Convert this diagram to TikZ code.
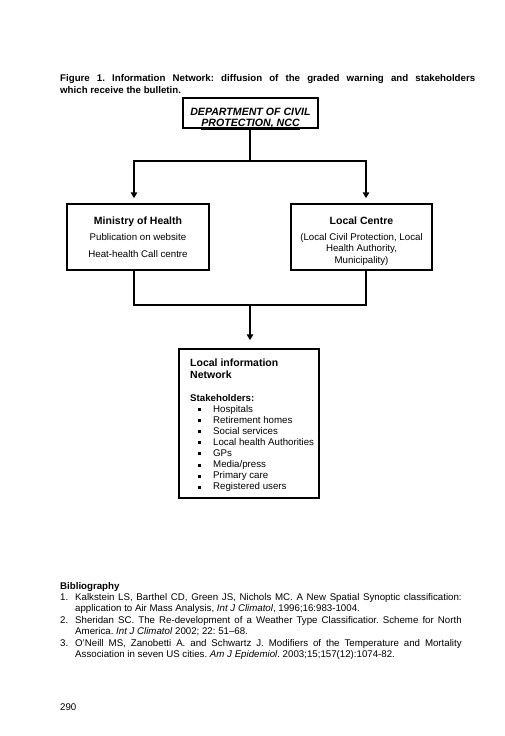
\documentclass[tikz,border=0pt]{standalone}
\usepackage{fontspec}
\setmainfont{Liberation Sans}
\usetikzlibrary{arrows.meta,calc}
\tikzset{
  box/.style={draw, line width=1.5pt, inner sep=0pt},
  conn/.style={line width=1.9pt},
  arr/.style={conn, -{Triangle[width=6.5pt,length=6pt]}},
  txt/.style={inner sep=0pt, anchor=base},
  txtl/.style={inner sep=0pt, anchor=base west},
  body/.style={font=\fontsize{9.7}{11.5}\selectfont},
  head/.style={font=\fontsize{10.5}{12}\selectfont\bfseries},
}
\newcommand{\sqbullet}{\raisebox{1.3pt}{\rule{3pt}{3pt}}}
\begin{document}
\frenchspacing
\begin{tikzpicture}[x=1pt,y=-1pt]
\useasboundingbox (0,0) rectangle (504,736);
% caption
\node[txtl, font=\fontsize{9.7}{12}\selectfont\bfseries] (cap1) at (60,81.5) {\makebox[415pt][s]{Figure 1. Information Network: diffusion of the graded warning and stakeholders}};
\node[txtl, font=\fontsize{9.7}{12}\selectfont\bfseries] (cap2) at (60,93.5) {which receive the bulletin.};
% boxes
\node[box, minimum width=135pt, minimum height=30pt] (dep) at (250.5,113) {};
\node[box, minimum width=142pt, minimum height=66pt] (moh) at (138,237) {};
\node[box, minimum width=141pt, minimum height=66pt] (lc) at (361.5,237) {};
\node[box, minimum width=140pt, minimum height=149pt] (lin) at (249,423.5) {};
% top box text
\node[txt, font=\fontsize{10.6}{12}\selectfont\bfseries\itshape] (dep1) at (250.5,115) {DEPARTMENT OF CIVIL};
\node[txt, font=\fontsize{10.6}{12}\selectfont\bfseries\itshape] (dep2) at (250.5,126) {\underline{PROTECTION, NCC}};
% ministry text
\node[txt, head] (moh1) at (138,224) {Ministry of Health};
\node[txt, body] (moh2) at (138,240.5) {Publication on website};
\node[txt, body] (moh3) at (138,257) {Heat-health Call centre};
% local centre text
\node[txt, head] (lc1) at (361.5,224) {Local Centre};
\node[txt, body] (lc2) at (361.5,240.5) {(Local Civil Protection, Local};
\node[txt, body] (lc3) at (361.5,251.8) {Health Authority,};
\node[txt, body] (lc4) at (361.5,263.2) {Municipality)};
% local information network text
\node[txtl, head] (lin1) at (190,366) {Local information};
\node[txtl, head] (lin2) at (190,378) {Network};
\node[txtl, body, font=\fontsize{9.7}{11.5}\selectfont\bfseries] (lin3) at (190,401.5) {Stakeholders:};
\foreach \t [count=\i] in {Hospitals,Retirement homes,Social services,Local health Authorities,GPs,Media/press,Primary care,Registered users}{
  \node[txtl, body] (item\i) at (197.5,401.5+11.05*\i) {\makebox[15.5pt][l]{\sqbullet}\t};
}
% connectors
\coordinate (j1) at (250,161);
\coordinate (jl) at (134,161);
\coordinate (jr) at (366,161);
\coordinate (bl) at (134,305);
\coordinate (br) at (366,305);
\coordinate (bc) at (250,305);
\draw[conn] (dep.south -| j1) -- (j1);
\draw[arr, shorten >=5pt] (j1) -| (jl |- moh.north);
\draw[arr, shorten >=5pt] (j1) -| (jr |- lc.north);
\draw[conn] (moh.south -| bl) -- (bl) -- (br) -- (lc.south -| br);
\draw[arr, shorten >=8pt] (bc) -- (bc |- lin.north);
% bibliography
\node[txtl, font=\fontsize{9.7}{11.5}\selectfont\bfseries] (bib) at (60,589.5) {Bibliography};
\node[txtl, body] (n1) at (60,600.5) {1.};
\node[txtl, body] (b11) at (75,600.5) {\makebox[386.5pt][s]{Kalkstein LS, Barthel CD, Green JS, Nichols MC. A New Spatial Synoptic classification:}};
\node[txtl, body] (b12) at (75,611.8) {application to Air Mass Analysis, \textit{Int J Climatol}, 1996;16:983-1004.};
\node[txtl, body] (n2) at (60,623.5) {2.};
\node[txtl, body] (b21) at (75,623.5) {\makebox[386.5pt][s]{Sheridan SC. The Re-development of a Weather Type Classificatior. Scheme for North}};
\node[txtl, body] (b22) at (75,634.8) {America. \textit{Int J Climatol} 2002; 22: 51--68.};
\node[txtl, body] (n3) at (60,646.5) {3.};
\node[txtl, body] (b31) at (75,646.5) {\makebox[386.5pt][s]{O'Neill MS, Zanobetti A. and Schwartz J. Modifiers of the Temperature and Mortality}};
\node[txtl, body] (b32) at (75,657.8) {Association in seven US cities. \textit{Am J Epidemiol}. 2003;15;157(12):1074-82.};
\node[txtl, body] (pg) at (60,710.5) {290};
\end{tikzpicture}
\end{document}
